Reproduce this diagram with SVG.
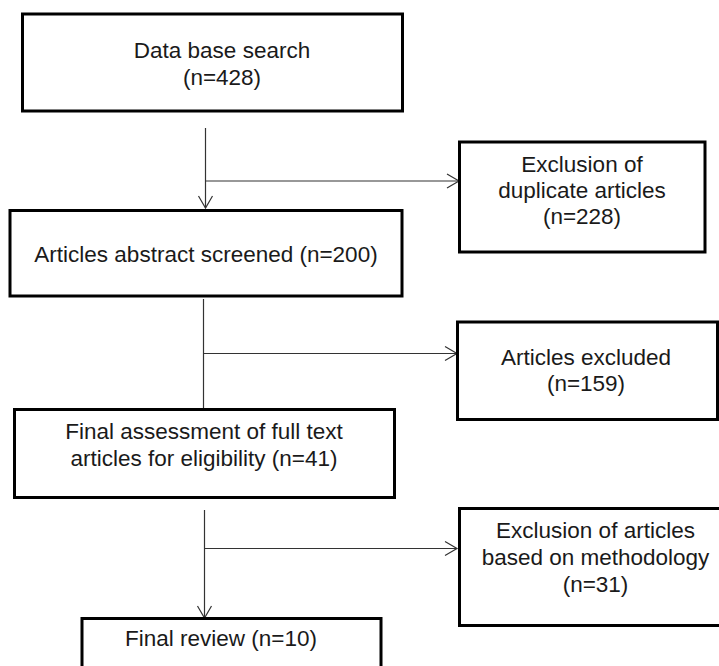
<svg xmlns="http://www.w3.org/2000/svg" width="719" height="666" viewBox="0 0 719 666">
<style>
.box{fill:#fff;stroke:#000;stroke-width:3}
.t{font-family:"Liberation Sans",Arial,sans-serif;font-size:22.5px;fill:#1a1a1a;text-anchor:middle}
.c{fill:none;stroke:#333;stroke-width:1.2}
</style>
<defs>
<marker id="arr" markerUnits="userSpaceOnUse" markerWidth="30" markerHeight="30" viewBox="-15 -15 30 30" refX="0" refY="0" orient="auto">
<path d="M-12,-7 L0,0 L-12,7" fill="none" stroke="#333" stroke-width="1.2"/>
</marker>
</defs>
<rect width="719" height="666" fill="#fff"/>
<g id="connectors">
<line class="c" x1="205.5" y1="128" x2="205.5" y2="208" marker-end="url(#arr)"/>
<line class="c" x1="205.5" y1="181" x2="459" y2="181" marker-end="url(#arr)"/>
<line class="c" x1="203.5" y1="299" x2="203.5" y2="409"/>
<line class="c" x1="203.5" y1="353.5" x2="457" y2="353.5" marker-end="url(#arr)"/>
<line class="c" x1="204.5" y1="510" x2="204.5" y2="618" marker-end="url(#arr)"/>
<line class="c" x1="204.5" y1="548.5" x2="457" y2="548.5" marker-end="url(#arr)"/>
</g>
<g id="n1">
<rect class="box" x="22.5" y="14" width="380" height="97"/>
<text class="t" x="222" y="58">Data base search</text>
<text class="t" x="222" y="85">(n=428)</text>
</g>
<g id="n2">
<rect class="box" x="10" y="210.5" width="392" height="85.5"/>
<text class="t" x="206" y="262">Articles abstract screened (n=200)</text>
</g>
<g id="n3">
<rect class="box" x="14.5" y="409.5" width="380" height="88"/>
<text class="t" x="204" y="439">Final assessment of full text</text>
<text class="t" x="204" y="466">articles for eligibility (n=41)</text>
</g>
<g id="n4">
<rect class="box" x="82" y="618.5" width="299" height="60"/>
<text class="t" x="221" y="646">Final review (n=10)</text>
</g>
<g id="n5">
<rect class="box" x="459.5" y="142" width="245.5" height="110"/>
<text class="t" x="582" y="171.5">Exclusion of</text>
<text class="t" x="582" y="197.5">duplicate articles</text>
<text class="t" x="582" y="223.5">(n=228)</text>
</g>
<g id="n6">
<rect class="box" x="457.5" y="322" width="260" height="97.5"/>
<text class="t" x="586" y="365">Articles excluded</text>
<text class="t" x="586" y="391">(n=159)</text>
</g>
<g id="n7">
<rect class="box" x="459.5" y="508.5" width="275" height="117"/>
<text class="t" x="595.5" y="538">Exclusion of articles</text>
<text class="t" x="595.5" y="565">based on methodology</text>
<text class="t" x="595.5" y="592">(n=31)</text>
</g>
</svg>
